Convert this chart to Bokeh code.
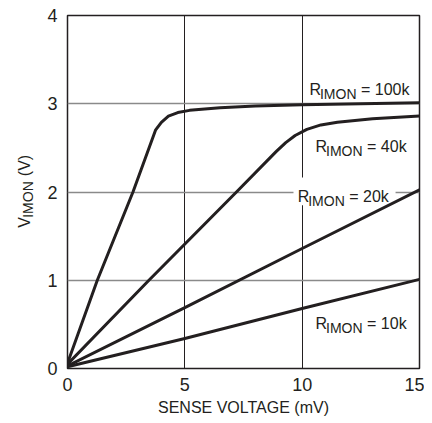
import math
from bokeh.plotting import figure
from bokeh.layouts import row
from bokeh.models import FixedTicker, Label, BoxAnnotation, Range1d
from bokeh.embed import file_html
from bokeh.resources import INLINE

# ---- data ----
x_100k = [0, 1.27, 2.79, 3.75, 4.0, 4.3, 4.7, 5.2, 6.5, 8.0, 10.0, 12.5, 15.0]
y_100k = [0.06, 1.0, 2.0, 2.70, 2.79, 2.86, 2.90, 2.925, 2.955, 2.975, 2.99, 3.0, 3.01]

x_40k = [0, 3.47, 7.2, 8.9, 9.3, 9.7, 10.2, 10.8, 11.5, 13.0, 15.0]
y_40k = [0.05, 1.0, 2.0, 2.46, 2.56, 2.64, 2.71, 2.76, 2.79, 2.83, 2.86]

x_20k = [0, 5, 10, 15]
y_20k = [0.03, 0.69, 1.36, 2.025]

x_10k = [0, 5, 10, 15]
y_10k = [0.02, 0.34, 0.68, 1.01]

x_ticks = [0, 5, 10, 15]
y_ticks = [0, 1, 2, 3, 4]
x_grid = [5, 10]
y_grid = [1, 2, 3]

label_values = ["100k", "40k", "20k", "10k"]
x_title = "SENSE VOLTAGE (mV)"
y_title_parts = ["V", "IMON", "(V)"]

FONT = "Liberation Sans"
INK = "#231f20"
H = 420
STRIP = 44
TOP, BOTTOM = 15, 52          # borders above / below the plotting frame
FRAME_TOP, FRAME_BOTTOM = TOP, H - BOTTOM   # page rows of the frame edges

# ---- main chart ----
p = figure(width=424 - STRIP, height=H, output_backend="svg", toolbar_location=None,
           x_range=Range1d(0, 15), y_range=Range1d(0, 4),
           min_border_left=67 - STRIP, min_border_right=5,
           min_border_top=TOP, min_border_bottom=BOTTOM)
p.outline_line_color = INK
p.outline_line_width = 1.5
p.background_fill_color = "white"
p.border_fill_color = "white"

for ax in (p.xaxis[0], p.yaxis[0]):
    ax.axis_line_color = None
    ax.major_tick_line_color = None
    ax.minor_tick_line_color = None
    ax.major_tick_out = 0
    ax.major_tick_in = 0
    ax.minor_tick_out = 0
    ax.minor_tick_in = 0
    ax.major_label_text_font = FONT
    ax.major_label_text_font_size = "18px"
    ax.major_label_text_color = INK
p.xaxis.ticker = FixedTicker(ticks=x_ticks)
p.yaxis.ticker = FixedTicker(ticks=y_ticks)
p.xaxis.major_label_standoff = 9
p.yaxis.major_label_standoff = 10
p.xaxis.axis_label = x_title
p.xaxis.axis_label_text_font = FONT
p.xaxis.axis_label_text_font_size = "16px"
p.xaxis.axis_label_text_font_style = "normal"
p.xaxis.axis_label_text_color = INK
p.xaxis.axis_label_standoff = 5

p.xgrid.ticker = FixedTicker(ticks=x_grid)
p.xgrid.grid_line_color = INK
p.xgrid.grid_line_width = 1
p.ygrid.ticker = FixedTicker(ticks=y_grid)
p.ygrid.grid_line_color = "#8a8a8a"
p.ygrid.grid_line_width = 1.5

# white patch behind the 20k label (covers grid lines)
p.add_layout(BoxAnnotation(left=9.63, right=13.98, bottom=1.85, top=2.164,
                           fill_color="white", fill_alpha=1.0, line_color=None,
                           level="underlay"))

for xs, ys in ((x_100k, y_100k), (x_40k, y_40k), (x_20k, y_20k), (x_10k, y_10k)):
    p.line(xs, ys, line_color=INK, line_width=3, line_join="round", line_cap="round")

def add_rlabel(x, y, val):
    common = dict(x=x, y=y, text_font=FONT, text_color=INK, text_baseline="alphabetic",
                  text_align="left")
    p.add_layout(Label(text="R", text_font_size="16px", **common))
    p.add_layout(Label(text="IMON", text_font_size="14px", x_offset=10.5, y_offset=-4.5, **common))
    p.add_layout(Label(text="= " + val, text_font_size="16px", x_offset=51.5, **common))

label_pos = [(10.31, 3.16), (10.57, 2.51), (9.81, 1.95), (10.57, 0.513)]
for (lx, ly), val in zip(label_pos, label_values):
    add_rlabel(lx, ly, val)

# ---- narrow strip holding the rotated y-axis title V_IMON (V) ----
# its frame is aligned with the main frame; y is measured as minus the page row
t = figure(width=STRIP, height=H, output_backend="svg", toolbar_location=None,
           x_range=Range1d(0, STRIP), y_range=Range1d(-FRAME_BOTTOM, -FRAME_TOP),
           x_axis_location=None, y_axis_location=None,
           min_border_left=0, min_border_right=0,
           min_border_top=TOP, min_border_bottom=BOTTOM)
t.outline_line_color = None
t.xgrid.visible = False
t.ygrid.visible = False
rot = math.pi / 2
tcommon = dict(angle=rot, text_font=FONT, text_color=INK,
               text_baseline="middle", text_align="center")
t.add_layout(Label(x=24, y=-222, text=y_title_parts[0], text_font_size="16px", **tcommon))
t.add_layout(Label(x=27.5, y=-199, text=y_title_parts[1], text_font_size="14px", **tcommon))
t.add_layout(Label(x=24, y=-165, text=y_title_parts[2], text_font_size="16px", **tcommon))

layout = row(t, p)
open("out.html", "w").write(file_html(layout, INLINE))
